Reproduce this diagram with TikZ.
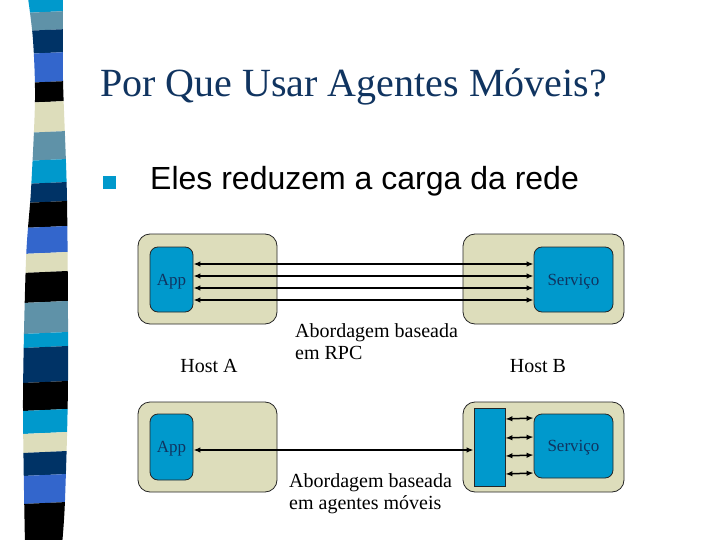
\documentclass[tikz,border=0pt]{standalone}
\usepackage{fontspec}
\setmainfont{Liberation Serif}
\newfontfamily\arialfont{Liberation Sans}
\usetikzlibrary{arrows.meta}

\definecolor{cyn}{RGB}{0,153,204}
\definecolor{stl}{RGB}{95,146,168}
\definecolor{nav}{RGB}{0,51,102}
\definecolor{roy}{RGB}{51,102,204}
\definecolor{bge}{RGB}{221,221,187}
\definecolor{lbl}{RGB}{153,204,255}
\definecolor{ttl}{RGB}{16,52,96}

\begin{document}
\begin{tikzpicture}[x=1pt,y=-1pt,
    hostbox/.style={draw=black!85,line width=0.8pt,fill=bge,rounded corners=12pt,
        minimum width=#1,minimum height=90pt,inner sep=0pt},
    procbox/.style={draw=black!85,line width=0.8pt,fill=cyn,rounded corners=8pt,
        minimum width=#1,minimum height=65pt,inner sep=0pt,text=ttl,text depth=0pt,
        font=\fontsize{17}{20}\selectfont},
    lbl/.style={inner sep=0pt,font=\fontsize{20}{22}\selectfont},
    conn/.style={line width=1.5pt,{Latex[length=7pt,width=5.5pt]}-{Latex[length=7pt,width=5.5pt]}}]
    \useasboundingbox[fill=white] (0,0) rectangle (720,540);
    %
    % stripes
    \begin{scope}
        \clip plot[smooth] coordinates {(28,-2) (33,40) (35,100) (31,190) (26,260) (23,400) (25,545)}
            -- plot[smooth] coordinates {(62,545) (65,500) (68,380) (67,200) (63,80) (63,-2)} -- cycle;
        \foreach \ya/\yb/\col in {-5/12/cyn,12/30/stl,30/53/nav,53/82/roy,82/102/black,
                102/132/bge,132/160/stl,160/183/cyn,183/202/nav,202/227/lbl,227/253/roy,
                253/272/bge,272/302/black,302/333/stl,333/347/cyn,347/382/nav,382/410/lbl,
                410/433/cyn,433/452/bge,452/475/nav,475/503/roy,503/545/black}
            \fill[\col] (0,\ya+2) -- (90,\ya-2) -- (90,\yb-2) -- (0,\yb+2) -- cycle;
    \end{scope}
    %
    \node[anchor=base west,inner sep=0pt,text=ttl,font=\fontsize{40}{48}\selectfont] (title) at (100,97)
        {Por Que Usar Agentes Móveis?};
    \fill[cyn] (103,176) rectangle (116,189);
    \node[anchor=base west,inner sep=0pt,font=\arialfont\fontsize{32}{38}\selectfont] (bullet) at (150,190)
        {Eles reduzem a carga da rede};
    %
    % RPC
    \node[hostbox=139pt] (hostA1) at (207.5,279) {};
    \node[hostbox=161pt] (hostB1) at (543.5,279) {};
    \node[procbox=43pt] (app1) at (171.5,279.5) {App};
    \node[procbox=79pt] (svc1) at (573.5,279.5) {Serviço};
    \foreach \dy in {-15.5,-3.5,8.5,20.5}
        \draw[conn] ([shift={(0,\dy)}]app1.east) -- ([shift={(0,\dy)}]svc1.west);
    \node[lbl,anchor=base] (hA) at (209,372) {Host A};
    \node[lbl,anchor=base] (hB) at (538,372) {Host B};
    \node[lbl,anchor=base west,align=left] (rpc) at (295,359) {Abordagem baseada\\em RPC};
    %
    % agentes
    \node[hostbox=139pt] (hostA2) at (207.5,447) {};
    \node[hostbox=161pt] (hostB2) at (543.5,447) {};
    \node[procbox=43pt,minimum height=66pt] (app2) at (171.5,447) {App};
    \node[procbox=79pt,minimum height=64pt] (svc2) at (573.5,446) {Serviço};
    \node[draw=black!85,line width=0.8pt,fill=cyn,minimum width=31pt,minimum height=78pt,inner sep=0pt]
        (agent) at (489.5,447) {};
    \draw[conn] ([shift={(0,3)}]app2.east) -- ([shift={(0,3)}]agent.west);
    \foreach \dy in {-28,-9,9,27}
        \draw[conn] ([shift={(0,\dy)}]agent.east) -- ([shift={(0,\dy)}]svc2.west);
    \node[lbl,anchor=base west,align=left] (mob) at (289,509) {Abordagem baseada\\em agentes móveis};
\end{tikzpicture}
\end{document}
